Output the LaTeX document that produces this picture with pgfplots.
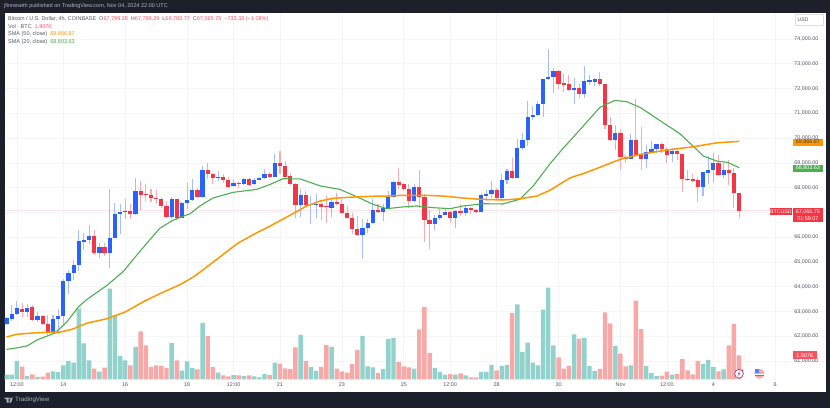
\documentclass[border=0pt]{standalone}
\usepackage{pgfplots}
\usepackage{pgfplotstable}
\usepackage{fontspec}
\setmainfont{Liberation Sans}
\pgfplotsset{compat=1.18}
\definecolor{darkbg}{HTML}{1C202B}
\definecolor{gridc}{HTML}{F4F5F6}
\definecolor{bluec}{HTML}{2962FF}
\definecolor{bluew}{HTML}{A6BEFF}
\definecolor{redc}{HTML}{F23645}
\definecolor{redw}{HTML}{F8ABB2}
\definecolor{tealv}{HTML}{92D2CC}
\definecolor{redv}{HTML}{F7A9A7}
\definecolor{orangec}{HTML}{FF9800}
\definecolor{greenc}{HTML}{4CAF50}
\definecolor{labelc}{HTML}{555A66}
\definecolor{legred}{HTML}{F7525F}
\definecolor{hdr}{HTML}{B2B5BE}
\pgfplotsset{base/.style={at={(4.7pt,16pt)},anchor=south west,width=821.3pt,height=379pt,scale only axis,xmin=-0.359,xmax=158.84}}
\pgfplotstableread{
j o h l c v
0 62510 62760 62470 62740 .37
1 62710 63260 62620 62910 .37
2 62900 63420 62860 63140 1.46
4 62980 63310 62780 63150 .26
6 62660 62980 62580 62820 .19
9 62170 62860 62140 62700 .63
10 62700 63100 62100 62830 .56
11 62820 64320 62450 64240 1.11
12 64240 64670 63720 64540 1.46
13 64550 65080 64270 64860 1.32
14 64860 66290 64630 65830 5.61
15 65800 66180 65480 65890 2.86
16 65890 66480 65710 66050 1.51
18 65350 65780 65170 65590 .61
20 65350 67930 64770 65980 7.2
21 65970 67390 65950 66950 5.08
22 66950 67330 66120 67030 1.85
23 67020 67530 66750 67060 1.51
25 66920 68380 66900 67860 2.57
32 66810 67630 66750 67550 2.88
34 66790 67420 66770 67380 .69
35 67380 68200 67120 67500 1.43
36 67500 68340 67480 67900 .90
38 67630 68870 67590 68710 4.47
41 68390 68670 68270 68420 .53
44 68050 68340 68030 68190 .34
46 68130 68380 68120 68340 .26
48 68130 68400 68120 68320 .24
49 68320 68440 68300 68390 .16
50 68390 68740 68340 68560 .42
52 68440 69350 68430 68990 1.32
57 67290 67930 66810 67710 3.52
59 67300 67660 66520 67340 .98
60 67330 67730 66790 67350 .66
63 67190 67570 66830 67420 2.57
69 66100 66720 65130 66370 3.44
70 66370 66720 66180 66570 1.03
71 66570 67530 66520 67100 .95
73 67000 67330 66650 67180 .82
74 67180 67860 67150 67620 3.2
75 67620 68250 67590 68240 3.28
79 67460 68130 67430 68040 .85
83 66530 66880 66280 66790 .90
84 66790 67120 66690 66910 .58
85 66910 67120 66880 67030 .37
87 66770 67100 66380 67060 .37
89 66980 67260 66850 67180 .32
92 67020 67770 67010 67690 .58
93 67670 67900 67460 67730 .58
94 67730 68270 67590 67920 1.14
96 67590 68540 67530 68310 1.06
97 68310 68740 68130 68670 1.14
99 68390 69970 68380 69600 5.95
100 69600 70220 69520 69910 2.17
101 69910 71500 69680 70850 2.91
102 70850 71300 70730 70930 1.32
103 70930 71510 70900 71380 1.11
104 71380 72380 70860 72370 5.53
105 72370 73600 72340 72480 7.28
106 72470 72830 71810 72700 2.70
110 71940 72440 71380 72010 3.57
112 71780 72920 71600 72300 3.28
113 72280 72550 72140 72330 1.06
114 72280 72440 72100 72370 .66
118 69910 70530 69520 70190 2.65
121 69160 70160 69150 69920 1.11
124 69160 69720 68780 69450 1.06
125 69450 69880 69380 69560 .50
126 69550 69770 69380 69760 .26
129 69340 69590 69050 69490 .37
135 68010 68640 67660 68630 1.22
136 68610 69280 68150 68710 1.53
137 68710 69410 68180 68980 .98
139 68510 69010 68400 68710 .79
}\up
\pgfplotstableread{
j o h l c v
3 63110 63350 62780 62980 1.0
5 63180 63260 62620 62670 .40
7 62820 62870 62470 62510 .21
8 62490 62860 62050 62170 .53
17 66050 66290 65280 65350 .85
19 65590 65780 65240 65350 .93
24 67060 67330 66750 66940 1.11
26 67860 68270 67100 67710 3.81
27 67730 68130 67460 67690 2.70
28 67690 67930 67430 67570 .98
29 67590 67890 67330 67550 1.11
30 67550 67590 67190 67260 1.06
31 67260 67460 66790 66810 .90
33 67550 67560 66690 66790 1.51
37 67900 68000 67620 67630 .79
39 68710 68980 68360 68550 3.44
40 68570 68590 68160 68400 .98
42 68420 68540 68200 68300 .32
43 68310 68440 68020 68040 .24
45 68200 68210 68000 68150 .32
47 68340 68380 68070 68120 .32
51 68560 68630 68400 68440 .34
53 68980 69480 68540 68870 1.24
54 68870 69070 68400 68440 .87
55 68470 68600 68090 68160 .82
56 68160 68200 66790 67290 2.54
58 67710 67860 67260 67300 1.46
61 67330 67460 66690 67210 .98
62 67260 67660 66580 67220 2.72
64 67420 67790 67330 67350 .85
65 67350 67530 66960 66990 .63
66 66990 67260 66720 66760 .53
67 66770 66990 66120 66320 1.22
68 66330 66850 66090 66100 2.33
72 67100 67330 66960 67000 .50
76 68240 68780 67930 68120 1.38
77 68130 68200 67860 67930 1.03
78 67960 68130 67190 67460 .95
80 68040 68710 67190 67620 3.97
81 67620 67730 65800 66690 5.74
82 66690 67100 65510 66530 2.09
86 67030 67060 66580 66770 .42
88 67070 67330 66850 66980 .48
90 67180 67220 66920 67100 .16
91 67100 67150 66990 67030 .16
95 67920 68000 67550 67590 .71
98 68670 69210 68370 68380 5.26
107 72700 72730 71980 72180 1.75
108 72210 72590 71870 72150 .85
109 72180 72550 71910 71940 1.06
111 72010 72170 71600 71780 3.23
115 72370 72660 72110 72170 .82
116 72180 72190 70350 70530 5.32
117 70530 70840 69890 69920 4.44
119 70190 70350 68710 69250 2.04
120 69250 69320 68980 69160 1.03
122 69920 71580 69290 69320 6.24
123 69340 70460 68710 69170 3.99
127 69760 69790 69410 69560 .29
128 69560 69650 68980 69320 .61
130 69490 69520 69110 69340 .42
131 69340 69350 67840 68340 1.61
132 68350 68710 68280 68310 .71
133 68350 68540 68240 68270 .40
134 68310 68440 67430 68010 1.46
138 68980 69300 68470 68500 .63
140 68710 69110 68110 68580 2.70
141 68580 68780 67170 67800 4.37
142 67799 67799 66784 67066 1.907
}\down
\pgfplotstableread{
j p
0 61970
2 62080
5 62130
8 62160
10.4 62170
12.7 62280
15.6 62530
19.5 62710
23 62980
26.4 63380
29.7 63720
33.6 64080
36.2 64390
37.5 64590
40.8 65110
44.7 65740
48.5 66180
51.1 66450
54.9 66880
58.2 67260
60.8 67460
63.3 67570
67.2 67620
70.5 67650
73.7 67660
76.8 67690
81.4 67690
85.3 67650
88.5 67580
91.8 67530
96.2 67500
99.5 67550
102.8 67660
105.3 67890
109.2 68390
112.1 68590
115 68820
118.9 69140
122.8 69340
128 69520
133.1 69650
137.7 69810
142 69867
}\smafifty
\pgfplotstableread{
j p
0 61470
2 61530
4 61610
5.9 61850
9.4 62130
11.7 62580
13.9 63180
15.6 63490
19.5 64060
22.6 64610
25.9 65440
29.7 66360
32.3 66690
35.6 66950
37.5 67260
40 67580
43.9 67810
48.5 67930
51.1 68130
53.6 68360
56.9 68350
60.8 68070
64.6 67930
67.9 67630
71 67330
73.7 67150
76.8 67220
79.5 67260
82.7 67190
86 67150
88.5 67260
92.4 67350
96.2 67340
99.5 67530
102.1 68070
105.3 68950
107.6 69520
111.2 70350
115 71240
117.9 71520
120.2 71470
122.8 71240
126.7 70700
130.5 70180
133.5 69590
135 69280
137.7 69070
139.8 69020
142 68804
}\smatwenty
\begin{document}
\begin{tikzpicture}[x=1pt,y=1pt]
\path[use as bounding box,fill=darkbg] (0,0) rectangle (830,408);
% price scale, grid, time scale
\begin{axis}[base,ymin=59749,ymax=75050,
  axis background/.style={fill=white},
  axis line style={draw=none},tick style={draw=none},
  grid=major,grid style={color=gridc,line width=.6pt},
  xtick={2,11,23,35,44,53,65,77,86,95,107,119,128,137,149},
  xticklabels={12:00,14,16,18,12:00,21,23,25,12:00,28,30,Nov,12:00,4,6},
  ytick={61000,62000,...,74000},
  yticklabel pos=right,
  xticklabel style={font=\fontsize{5.4}{6}\selectfont,text=labelc,anchor=center,yshift=7pt},
  yticklabel style={font=\fontsize{5.4}{6}\selectfont,text=labelc,anchor=east,xshift=-4pt,
    /pgf/number format/.cd,fixed,fixed zerofill,precision=2,1000 sep={,},assume math mode=true},
  scaled y ticks=false]
\addplot[color=redc!14,line width=.7pt,forget plot] coordinates {(-0.359,67065.75)(158.84,67065.75)};
\end{axis}
% volume
\begin{axis}[base,hide axis,ymin=-1.008,ymax=29.07]
\addplot[ybar,bar width=4.45pt,bar shift=0pt,fill=tealv,draw=none] table[x=j,y=v]{\up};
\addplot[ybar,bar width=4.45pt,bar shift=0pt,fill=redv,draw=none] table[x=j,y=v]{\down};
\end{axis}
% candles and averages
\begin{axis}[base,hide axis,ymin=59749,ymax=75050]
\addplot[draw=none,no markers,error bars/.cd,y dir=both,y explicit,error mark=none,error bar style={draw=bluew,line width=1.05pt}]
  table[x=j,y=c,y error plus expr=\thisrow{h}-\thisrow{c},y error minus expr=\thisrow{c}-\thisrow{l}]{\up};
\addplot[draw=none,no markers,error bars/.cd,y dir=both,y explicit,error mark=none,error bar style={draw=redw,line width=1.05pt}]
  table[x=j,y=c,y error plus expr=\thisrow{h}-\thisrow{c},y error minus expr=\thisrow{c}-\thisrow{l}]{\down};
\addplot[draw=none,no markers,error bars/.cd,y dir=minus,y explicit,error mark=none,error bar style={draw=bluec,line width=4.2pt}]
  table[x=j,y=c,y error minus expr=\thisrow{c}-\thisrow{o}]{\up};
\addplot[draw=none,no markers,error bars/.cd,y dir=minus,y explicit,error mark=none,error bar style={draw=redc,line width=4.2pt}]
  table[x=j,y=o,y error minus expr=\thisrow{o}-\thisrow{c}]{\down};
\addplot[color=greenc,line width=1.1pt,no marks] table[x=j,y=p]{\smatwenty};
\addplot[color=orangec,line width=1.5pt,no marks] table[x=j,y=p]{\smafifty};
\end{axis}
% texts around the plot
\tikzset{t/.style={anchor=west,inner sep=0pt,font=\fontsize{5.5}{6.5}\selectfont}}
\node[t,text=hdr] at (4,402) {jfinneseth published on TradingView.com, Nov 04, 2024 22:00 UTC};
\node[t,text=labelc] at (8,389) {Bitcoin / U.S. Dollar, 4h, COINBASE\hspace{3pt}O\textcolor{legred}{67,799.28}\hspace{3pt}H\textcolor{legred}{67,799.29}\hspace{3pt}L\textcolor{legred}{66,783.77}\hspace{3pt}C\textcolor{legred}{67,065.75}\hspace{3pt}\textcolor{legred}{−733.33 (−1.08\%)}};
\node[t,text=labelc] at (8,381.3) {Vol · BTC\hspace{3pt}\textcolor{legred}{1.907K}};
\node[t,text=labelc] at (8,373.7) {SMA (50, close)\hspace{3pt}\textcolor{orangec}{69,866.87}};
\node[t,text=labelc] at (8,366) {SMA (20, close)\hspace{3pt}\textcolor{greenc}{68,803.63}};
\node[t,text=hdr,font=\fontsize{6.2}{7}\selectfont] at (15,7.7) {TradingView};
% TradingView logo
\fill[hdr] (4.7,10.5) rectangle (8.6,8.9) (6.6,8.9) rectangle (8.6,5.3);
\fill[hdr] (9.4,9.6) circle (.8);
\fill[hdr] (9.2,5.3) -- (11,10.5) -- (12.8,10.5) -- (11,5.3) -- cycle;
% USD box
\draw[color=gray!25,fill=white,line width=.5pt] (795,393.7) rectangle (823.3,382.7);
\node[text=labelc,inner sep=0pt,font=\fontsize{5.2}{6}\selectfont] at (803,388.2) {USD};
% badges
\fill[orangec] (793,269.3) rectangle (822.7,262.3);
\node[inner sep=0pt,text=black!75,font=\fontsize{5.4}{6}\selectfont] at (807.8,265.8) {69,866.87};
\fill[greenc] (793,243) rectangle (822.7,236.3);
\node[inner sep=0pt,text=white,font=\fontsize{5.4}{6}\selectfont] at (807.8,239.7) {68,803.63};
\fill[redc] (770,199.7) rectangle (791.7,192.7);
\node[inner sep=0pt,text=white,font=\fontsize{5.2}{6}\selectfont] at (780.8,196.2) {BTCUSD};
\fill[redc] (793,200) rectangle (822.7,186.3);
\node[inner sep=0pt,text=white,font=\fontsize{5.4}{6}\selectfont] at (807.8,196.4) {67,065.75};
\node[inner sep=0pt,text=white,font=\fontsize{5.4}{6}\selectfont] at (807.8,189.7) {01:59:07};
\fill[legred] (793,56.7) rectangle (816.7,49);
\node[inner sep=0pt,text=white,font=\fontsize{5.4}{6}\selectfont] at (804.8,52.8) {1.907K};
% event icons
\draw[color=violet!70,fill=white,line width=.8pt] (739,34.3) circle (4.4);
\fill[violet!70] (739.8,37) -- (737.6,33.9) -- (738.9,33.9) -- (738.2,31.6) -- (740.4,34.7) -- (739.1,34.7) -- cycle;
\fill[redc] (742.2,37.6) circle (1);
\fill[redv] (759.3,34.3) circle (5);
\fill[white] (754.8,33.4) rectangle (763.8,34.5);
\fill[redc!90] (755,31.6) rectangle (763.6,32.7);
\fill[bluec!80] (754.6,35) rectangle (759.3,38.6);
\end{tikzpicture}
\end{document}
